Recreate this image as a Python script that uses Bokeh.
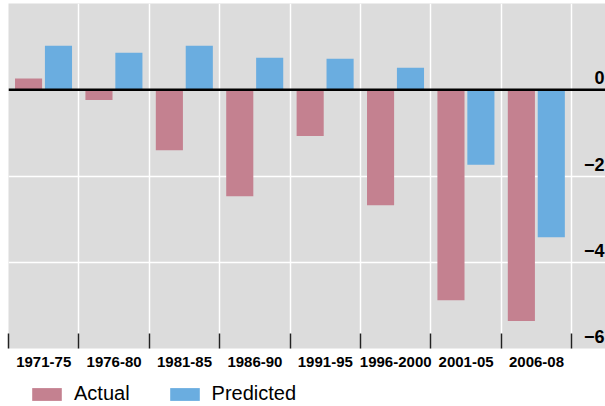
from bokeh.plotting import figure
from bokeh.layouts import column
from bokeh.models import (Range1d, LinearAxis, FixedTicker, Legend, LegendItem,
                          ColumnDataSource, Span)
from bokeh.core.properties import value
from bokeh.embed import file_html
from bokeh.resources import INLINE

categories = ["1971-75", "1976-80", "1981-85", "1986-90", "1991-95",
              "1996-2000", "2001-05", "2006-08"]
actual = [0.26, -0.24, -1.40, -2.47, -1.07, -2.68, -4.88, -5.36]
predicted = [1.02, 0.86, 1.02, 0.74, 0.72, 0.51, -1.74, -3.42]
series_names = ["Actual", "Predicted"]
y_ticks = [0, -2, -4, -6]
y_tick_labels = ["0", "\u22122", "\u22124", "\u22126"]

GRAY = "#dcdcdc"
PINK = "#c48190"
BLUE = "#6aade0"
FONT = "Liberation Sans"

n = len(categories)
pos = list(range(n))
x_end = 597 / 70.4

p = figure(frame_width=597, frame_height=345, output_backend="svg",
           toolbar_location=None, x_range=Range1d(0, x_end),
           y_range=Range1d(-6.0, 2.0), min_border=0, min_border_left=8,
           min_border_top=3,
           background_fill_color=GRAY, border_fill_color="white",
           outline_line_color=None)
p.xaxis.visible = False
p.yaxis.visible = False

# grids
p.xgrid.ticker = FixedTicker(ticks=list(range(n + 1)))
p.xgrid.grid_line_color = "white"
p.xgrid.grid_line_width = 1.5
p.ygrid.ticker = FixedTicker(ticks=[-2, -4])
p.ygrid.grid_line_color = "white"
p.ygrid.grid_line_width = 1.5

src = ColumnDataSource(dict(
    xa=[i + 0.285 for i in pos], xp=[i + 0.71 for i in pos],
    actual=actual, predicted=predicted))
ra = p.vbar(x="xa", top="actual", bottom=0, width=0.385, source=src,
            fill_color=PINK, line_color=None)
rp = p.vbar(x="xp", top="predicted", bottom=0, width=0.385, source=src,
            fill_color=BLUE, line_color=None)

p.add_layout(Span(location=0, dimension="width", line_color="black",
                  line_width=2.5))

# y tick labels, drawn inside the gray area at right
ysrc = ColumnDataSource(dict(x=[x_end] * len(y_ticks), y=y_ticks,
                             t=y_tick_labels))
p.text(x="x", y="y", text="t", source=ysrc, text_align="right",
       text_baseline="middle", text_font=value(FONT),
       text_font_size="18px", text_font_style="bold", text_color="black",
       x_offset=-1, y_offset=-12)

# bottom axis with category labels
xaxis = LinearAxis(ticker=FixedTicker(ticks=[i + 0.5 for i in pos],
                                      minor_ticks=list(range(n + 1))))
xaxis.major_label_overrides = {i + 0.5: c for i, c in enumerate(categories)}
xaxis.axis_line_color = None
xaxis.major_tick_line_color = None
xaxis.major_tick_in = 0
xaxis.major_tick_out = 0
xaxis.minor_tick_in = 15
xaxis.minor_tick_out = 0
xaxis.minor_tick_line_color = "#222222"
xaxis.minor_tick_line_width = 1.5
xaxis.major_label_standoff = 8
xaxis.major_label_text_font = FONT
xaxis.major_label_text_font_size = "15px"
xaxis.major_label_text_font_style = "bold"
xaxis.major_label_text_color = "black"
p.add_layout(xaxis, "below")

# legend strip below the chart (its bars fall outside the strip's view)
p2 = figure(frame_width=597, frame_height=34, output_backend="svg",
            toolbar_location=None, x_range=Range1d(0, x_end),
            y_range=Range1d(100, 101),
            min_border=0, min_border_left=8, background_fill_color="white",
            border_fill_color="white", outline_line_color=None)
p2.xaxis.visible = False
p2.yaxis.visible = False
p2.xgrid.visible = False
p2.ygrid.visible = False
la = p2.vbar(x="xa", top="actual", bottom=0, width=0.385, source=src,
             fill_color=PINK, line_color=None)
lp = p2.vbar(x="xp", top="predicted", bottom=0, width=0.385, source=src,
             fill_color=BLUE, line_color=None)

legend = Legend(items=[LegendItem(label=series_names[0], renderers=[la]),
                       LegendItem(label=series_names[1], renderers=[lp])],
                orientation="horizontal", location=(20, -2), margin=0,
                padding=0, spacing=36, glyph_width=37, glyph_height=16,
                label_standoff=9, label_text_font=FONT,
                label_text_font_size="20px", label_text_color="black",
                border_line_color=None, background_fill_color=None,
                background_fill_alpha=0, border_line_alpha=0)
p2.add_layout(legend)

layout = column(p, p2, spacing=0)
open("out.html", "w").write(file_html(layout, INLINE))
